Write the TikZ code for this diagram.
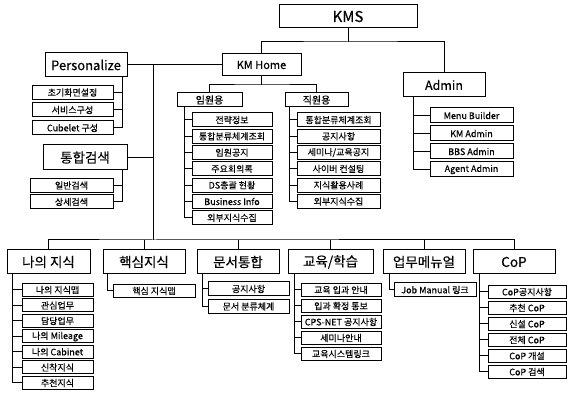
\documentclass[tikz,border=0pt]{standalone}
\usepackage{fontspec}
\newfontfamily\kr[FakeBold=0.3]{Noto Sans CJK KR}
\newcommand\mybox[6][sfont]{\node[box,#1,minimum width=#4pt,minimum height=#5pt] (#2) at (#3) {#6};}
\begin{document}
\begin{tikzpicture}[x=1pt,y=-1pt,
  box/.style={draw, line width=1pt, inner sep=0pt, fill=white},
  ln/.style={line width=1pt},
  tfont/.style={font=\kr\fontsize{15}{17}\selectfont},
  hfont/.style={font=\kr\fontsize{13.5}{15}\selectfont},
  pfont/.style={font=\kr\fontsize{13}{15}\selectfont},
  afont/.style={font=\kr\fontsize{12.5}{14}\selectfont},
  kfont/.style={font=\kr\fontsize{11}{12}\selectfont},
  mfont/.style={font=\kr\fontsize{10}{11}\selectfont},
  sfont/.style={font=\kr\fontsize{9}{10}\selectfont}]
\useasboundingbox (0,0) rectangle (568,395);
% top
\mybox[tfont]{kms}{348,16.5}{138}{23}{KMS}
\mybox[kfont]{kmh}{261.5,65}{79}{22}{KM Home}
\mybox[afont]{admin}{444,85}{82}{24}{Admin}
\mybox[pfont]{pers}{86,65}{82}{24}{Personalize}
\mybox[hfont]{srch}{85,157.5}{84}{25}{통합검색}
% personalize children
\mybox{pc1}{72.5,92.5}{81}{14}{초기화면설정}
\mybox{pc2}{72.5,110}{81}{14}{서비스구성}
\mybox{pc3}{72.5,128}{81}{14}{Cubelet 구성}
\mybox{sc1}{71.5,185.5}{83}{14}{일반검색}
\mybox{sc2}{71.5,202}{83}{14}{상세검색}
% KM Home children
\mybox[mfont]{exe}{209.5,100}{65}{14}{임원용}
\mybox[mfont]{emp}{316.5,100}{63}{14}{직원용}
\mybox{e1}{232,120}{80}{14}{전략정보}
\mybox{e2}{232,136.3}{80}{14}{통합분류체계조회}
\mybox{e3}{232,152.6}{80}{14}{임원공지}
\mybox{e4}{232,168.9}{80}{14}{주요회의록}
\mybox{e5}{232,185.2}{80}{14}{DS총괄 현황}
\mybox{e6}{232,201.5}{80}{14}{Business Info}
\mybox{e7}{232,217.8}{80}{14}{외부지식수집}
\mybox{m1}{338.5,120}{83}{14}{통합분류체계조회}
\mybox{m2}{338.5,136.3}{83}{14}{공지사항}
\mybox{m3}{338.5,152.6}{83}{14}{세미나/교육공지}
\mybox{m4}{338.5,168.9}{83}{14}{사이버 컨설팅}
\mybox{m5}{338.5,185.2}{83}{14}{지식활용사례}
\mybox{m6}{338.5,201.5}{83}{14}{외부지식수집}
% admin children
\mybox{a1}{471.5,115.5}{83}{15}{Menu Builder}
\mybox{a2}{471.5,133.5}{83}{15}{KM Admin}
\mybox{a3}{471.5,151.5}{83}{15}{BBS Admin}
\mybox{a4}{471.5,169.5}{83}{15}{Agent Admin}
% bottom row
\mybox[hfont]{b1}{48.5,262}{83}{24}{나의 지식}
\mybox[hfont]{b2}{144,262}{82}{24}{핵심지식}
\mybox[hfont]{b3}{238,262}{82}{24}{문서통합}
\mybox[hfont]{b4}{330.5,262}{85}{24}{교육/학습}
\mybox[hfont]{b5}{424,262}{82}{24}{업무메뉴얼}
\mybox[hfont]{b6}{514,262}{82}{24}{CoP}
\mybox{k1}{57.5,290}{71}{13}{나의 지식맵}
\mybox{k2}{57.5,305.5}{71}{13}{관심업무}
\mybox{k3}{57.5,321}{71}{13}{담당업무}
\mybox{k4}{57.5,336.5}{71}{13}{나의 Mileage}
\mybox{k5}{57.5,352}{71}{13}{나의 Cabinet}
\mybox{k6}{57.5,367.5}{71}{13}{신착지식}
\mybox{k7}{57.5,383}{71}{13}{추천지식}
\mybox{h1}{154,291}{82}{13}{핵심 지식맵}
\mybox{d1}{248.5,289}{81}{14}{공지사항}
\mybox{d2}{248.5,306.5}{81}{14}{문서 분류체계}
\mybox{u1}{341,290}{80}{13}{교육 입과 안내}
\mybox{u2}{341,306}{80}{13}{입과 확정 통보}
\mybox{u3}{341,322}{80}{13}{CPS-NET 공지사항}
\mybox{u4}{341,338}{80}{13}{세미나안내}
\mybox{u5}{341,354}{80}{13}{교육시스템링크}
\mybox{j1}{435,290}{82}{14}{Job Manual 링크}
\mybox{c1}{527,292}{78}{13.5}{CoP공지사항}
\mybox{c2}{527,308}{78}{13.5}{추천 CoP}
\mybox{c3}{527,324}{78}{13.5}{신설 CoP}
\mybox{c4}{527,340}{78}{13.5}{전체 CoP}
\mybox{c5}{527,356}{78}{13.5}{CoP 개설}
\mybox{c6}{527,372}{78}{13.5}{CoP 검색}
% connectors
\coordinate (tj) at (348,42);
\draw[ln] (kms.south) -- (tj);
\draw[ln] (kmh.north) |- (tj) -| (admin.north);
\draw[ln] (pers.east) -- (kmh.west);
\coordinate (bus) at (153,240);
\draw[ln] (bus |- pers.east) -- (bus);
\draw[ln] (srch.east) -- (srch.east -| bus);
\coordinate (pv) at ([xshift=-5pt]pers.south east);
\foreach \c in {pc1,pc2,pc3} \draw[ln] (pv) |- (\c.east);
\coordinate (sv) at ([xshift=-5pt]srch.south east);
\foreach \c in {sc1,sc2} \draw[ln] (sv) |- (\c.east);
\coordinate (mj) at (261.5,85);
\draw[ln] (kmh.south) -- (mj);
\draw[ln] (exe.north) |- (mj) -| (emp.north);
\coordinate (ev) at ([xshift=8pt]exe.south west);
\foreach \c in {e1,e2,e3,e4,e5,e6,e7} \draw[ln] (ev) |- (\c.west);
\coordinate (mv) at ([xshift=5pt]emp.south west);
\foreach \c in {m1,m2,m3,m4,m5,m6} \draw[ln] (mv) |- (\c.west);
\coordinate (av) at ([xshift=11pt]admin.south west);
\foreach \c in {a1,a2,a3,a4} \draw[ln] (av) |- (\c.west);
\draw[ln] (b1.north) |- (bus) -| (b6.north);
\foreach \b in {b2,b3,b4,b5} \draw[ln] (\b.north) -- (\b.north |- bus);
\coordinate (kv) at ([xshift=6pt]b1.south west);
\foreach \c in {k1,k2,k3,k4,k5,k6,k7} \draw[ln] (kv) |- (\c.west);
\coordinate (hv) at ([xshift=5pt]b2.south west);
\draw[ln] (hv) |- (h1.west);
\coordinate (dv) at ([xshift=6pt]b3.south west);
\foreach \c in {d1,d2} \draw[ln] (dv) |- (\c.west);
\coordinate (uv) at ([xshift=7pt]b4.south west);
\foreach \c in {u1,u2,u3,u4,u5} \draw[ln] (uv) |- (\c.west);
\coordinate (jv) at ([xshift=7pt]b5.south west);
\draw[ln] (jv) |- (j1.west);
\coordinate (cv) at ([xshift=7pt]b6.south west);
\foreach \c in {c1,c2,c3,c4,c5,c6} \draw[ln] (cv) |- (\c.west);
\end{tikzpicture}
\end{document}
